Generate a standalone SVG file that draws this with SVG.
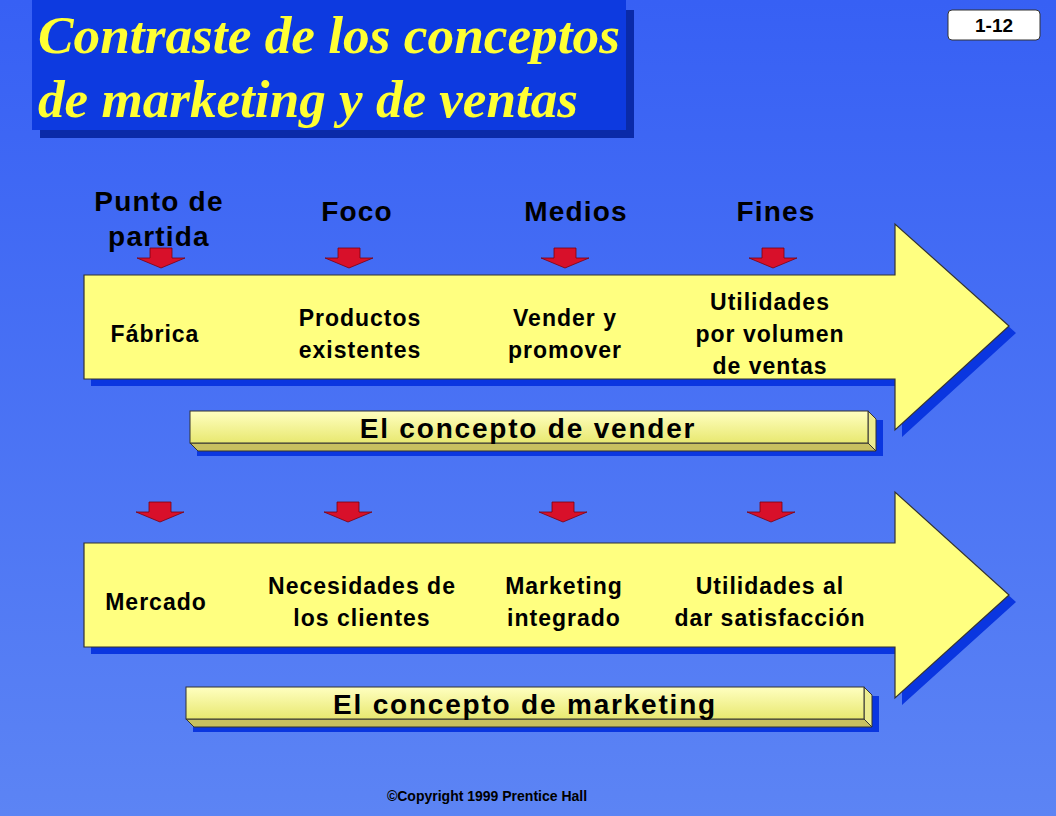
<svg xmlns="http://www.w3.org/2000/svg" width="1056" height="816" viewBox="0 0 1056 816">
<defs>
<linearGradient id="bg" x1="0" y1="0" x2="0" y2="1"><stop offset="0" stop-color="#3760f4"/><stop offset="1" stop-color="#5c84f4"/></linearGradient>
<linearGradient id="bar" x1="0" y1="0" x2="0" y2="1"><stop offset="0" stop-color="#ffffc0"/><stop offset="1" stop-color="#e8e870"/></linearGradient>
<path id="red" d="M-11,0 H11 V10 H24 L0,20 L-24,10 H-11 Z" fill="#d8102a" stroke="#7a0010" stroke-width="0.8"/>
</defs>
<style>
.h{font-family:"Liberation Sans",Arial,sans-serif;font-weight:bold;fill:#000;text-anchor:middle}
.l{font-size:28px;letter-spacing:1.2px}.n{font-size:23px;letter-spacing:1px}.c{font-size:28px;letter-spacing:1.8px}
.ar{fill:#ffff80;stroke:#333;stroke-width:1.2}
.sh{fill:#0a36e0}
.t{font-family:"Liberation Serif",serif;font-style:italic;font-weight:bold;font-size:52px;fill:#ffff33}
</style>
<rect width="1056" height="816" fill="url(#bg)"/>
<g id="title">
<rect x="40" y="10" width="594" height="128" fill="#0a2aa8"/>
<rect x="32" y="0" width="594" height="130" fill="#0d3ae0"/>
<text class="t" x="38" y="53" textLength="582" lengthAdjust="spacingAndGlyphs">Contraste de los conceptos</text>
<text class="t" x="38" y="117" textLength="540" lengthAdjust="spacingAndGlyphs">de marketing y de ventas</text>
</g>
<g id="page"><rect x="948" y="10" width="92" height="30" rx="4" fill="#fff" stroke="#333"/><text x="994" y="32" class="h" font-size="19">1-12</text></g>
<g id="headers">
<text class="h l" x="159" y="211">Punto de</text><text class="h l" x="159" y="246">partida</text>
<text class="h l" x="357" y="221">Foco</text>
<text class="h l" x="576" y="221">Medios</text>
<text class="h l" x="776" y="221">Fines</text>
</g>
<g id="arrow1">
<path class="sh" d="M91,282 H902 V231 L1016,333 L902,437 V386 H91 Z"/>
<path class="ar" d="M84,275 H895 V224 L1009,326 L895,430 V379 H84 Z"/>
<text class="h n" x="155" y="342">Fábrica</text>
<text class="h n" x="360" y="326">Productos</text><text class="h n" x="360" y="358">existentes</text>
<text class="h n" x="565" y="326">Vender y</text><text class="h n" x="565" y="358">promover</text>
<text class="h n" x="770" y="310">Utilidades</text><text class="h n" x="770" y="342">por volumen</text><text class="h n" x="770" y="374">de ventas</text>
</g>
<g id="arrow2">
<path class="sh" d="M91,550 H902 V499 L1016,602 L902,705 V654 H91 Z"/>
<path class="ar" d="M84,543 H895 V492 L1009,595 L895,698 V647 H84 Z"/>
<text class="h n" x="156" y="610">Mercado</text>
<text class="h n" x="362" y="594">Necesidades de</text><text class="h n" x="362" y="626">los clientes</text>
<text class="h n" x="564" y="594">Marketing</text><text class="h n" x="564" y="626">integrado</text>
<text class="h n" x="770" y="594">Utilidades al</text><text class="h n" x="770" y="626">dar satisfacción</text>
</g>
<g id="connectors">
<use href="#red" x="161" y="248"/><use href="#red" x="349" y="248"/><use href="#red" x="565" y="248"/><use href="#red" x="773" y="248"/>
<use href="#red" x="160" y="502"/><use href="#red" x="348" y="502"/><use href="#red" x="563" y="502"/><use href="#red" x="771" y="502"/>
</g>
<g id="bar1">
<rect x="197" y="420" width="686" height="36" class="sh"/>
<path d="M190,443 H868 L876,451 H198 Z" fill="#c8c060" stroke="#333"/>
<path d="M868,411 L876,419 V451 L868,443 Z" fill="#ecec90" stroke="#333"/>
<rect x="190" y="411" width="678" height="32" fill="url(#bar)" stroke="#333"/>
<text class="h c" x="528" y="438">El concepto de vender</text>
</g>
<g id="bar2">
<rect x="193" y="696" width="686" height="36" class="sh"/>
<path d="M186,719 H864 L872,727 H194 Z" fill="#c8c060" stroke="#333"/>
<path d="M864,687 L872,695 V727 L864,719 Z" fill="#ecec90" stroke="#333"/>
<rect x="186" y="687" width="678" height="32" fill="url(#bar)" stroke="#333"/>
<text class="h c" x="525" y="714">El concepto de marketing</text>
</g>
<text class="h" font-size="14" x="487" y="801">©Copyright 1999 Prentice Hall</text>
</svg>
